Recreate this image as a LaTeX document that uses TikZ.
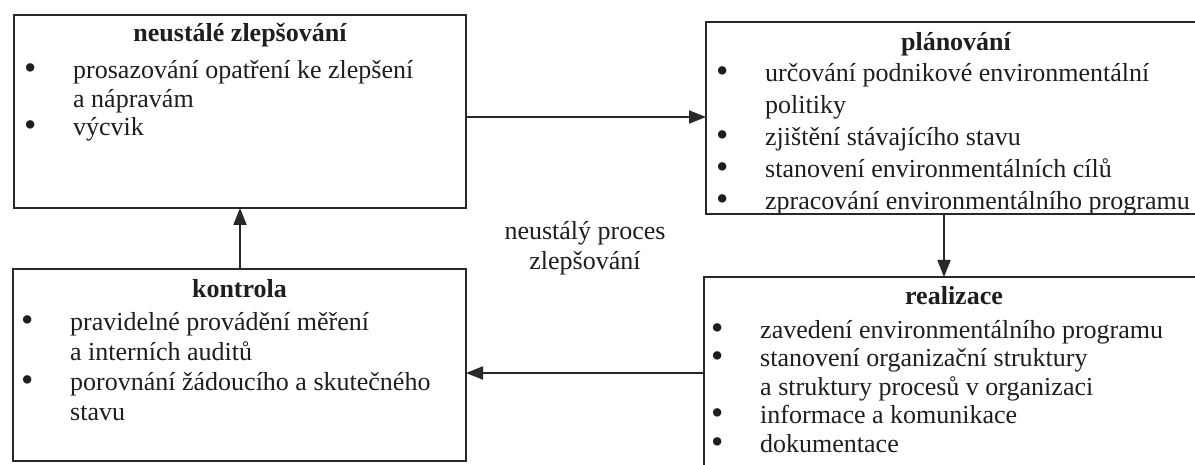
\documentclass[tikz,border=0pt]{standalone}
\usepackage{fontspec}
\setmainfont{Liberation Serif}
\usetikzlibrary{arrows.meta}
\definecolor{ink}{RGB}{30,30,30}
\definecolor{rule}{RGB}{40,40,40}
\begin{document}
\begin{tikzpicture}[x=1pt,y=-1pt,
  panel/.style={draw=rule, line width=1.8pt, inner sep=0pt, outer sep=0pt, fill=none},
  head/.style={text=ink, inner sep=0pt, font=\fontsize{26}{29}\selectfont\bfseries},
  items/.style={text=ink, inner sep=0pt, align=left, font=\fontsize{26}{#1}\selectfont},
  items/.default=29,
  flow/.style={draw=rule, line width=1.8pt, -{Triangle[length=17pt,width=13pt]}},
  note/.style={text=ink, inner sep=0pt, align=center, font=\fontsize{26}{30}\selectfont}
]
\useasboundingbox (0,0) rectangle (1195,465);
\clip (0,0) rectangle (1195,465);
\fill[white] (0,0) rectangle (1195,465);

% a bulleted line and a continuation line of a list
\newcommand{\bul}[1]{\makebox[0pt][c]{\smash{\raisebox{-1pt}{\scalebox{1.35}{•}}}}\hspace*{43pt}#1}
\newcommand{\cont}[1]{\hspace*{43pt}#1}

% the four stages of the cycle
\node[panel, minimum width=452pt, minimum height=193pt] (A) at (240,111.5) {};
\node[panel, minimum width=500pt, minimum height=192pt] (B) at (956,118) {};
\node[panel, minimum width=453pt, minimum height=192pt] (C) at (239.5,365) {};
\node[panel, minimum width=500pt, minimum height=198pt] (D) at (954,376) {};

% headings
\node[head, anchor=base] (Ah) at ([yshift=-27pt]A.north) {neustálé zlepšování};
\node[head, anchor=base] (Bh) at ([yshift=-29pt]B.north) {plánování};
\node[head, anchor=base] (Ch) at ([yshift=-29pt]C.north) {kontrola};
\node[head, anchor=base] (Dh) at ([yshift=-28pt]D.north) {realizace};

% bullet lists (anchored at the baseline of their last line)
\node[items=28.5, anchor=base west] (Al) at ([xshift=16pt,yshift=-121pt]A.north west)
  {\bul{prosazování opatření ke zlepšení}\\ \cont{a nápravám}\\ \bul{výcvik}};
\node[items=32, anchor=base west] (Bl) at ([xshift=16pt,yshift=-188pt]B.north west)
  {\bul{určování podnikové environmentální}\\ \cont{politiky}\\
   \bul{zjištění stávajícího stavu}\\ \bul{stanovení environmentálních cílů}\\
   \bul{zpracování environmentálního programu}};
\node[items=30, anchor=base west] (Cl) at ([xshift=14pt,yshift=-151pt]C.north west)
  {\bul{pravidelné provádění měření}\\ \cont{a interních auditů}\\
   \bul{porovnání žádoucího a skutečného}\\ \cont{stavu}};
\node[items=28.5, anchor=base west] (Dl) at ([xshift=13pt,yshift=-175pt]D.north west)
  {\bul{zavedení environmentálního programu}\\ \bul{stanovení organizační struktury}\\
   \cont{a struktury procesů v organizaci}\\ \bul{informace a komunikace}\\
   \bul{dokumentace}};

% label in the middle of the cycle
\node[note] (mid) at (585,248) {neustálý proces\\ zlepšování};

% connectors between the stages
\coordinate (ab) at (0,117);
\coordinate (bd) at (944,0);
\coordinate (dc) at (0,373);
\coordinate (ca) at (240,0);
\draw[flow] (A.east |- ab) -- (B.west |- ab);
\draw[flow] (B.south -| bd) -- (D.north -| bd);
\draw[flow] (D.west |- dc) -- (C.east |- dc);
\draw[flow] (C.north -| ca) -- (A.south -| ca);
\end{tikzpicture}
\end{document}
